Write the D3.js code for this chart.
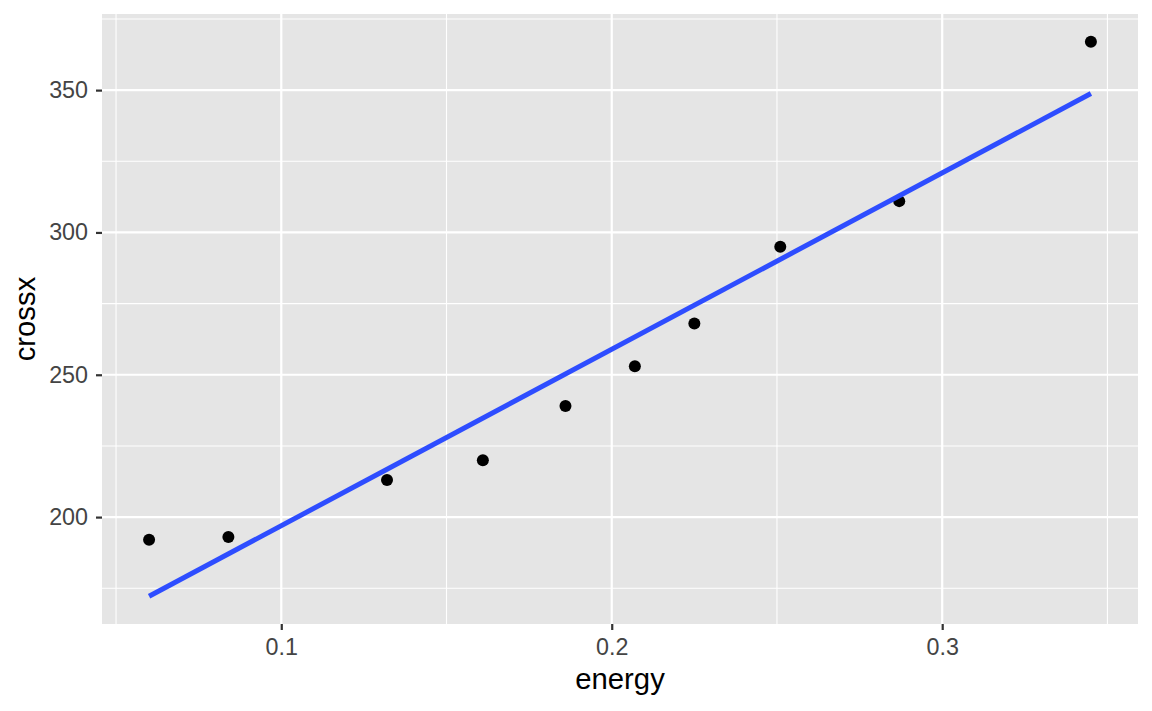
<!DOCTYPE html>
<html><head><meta charset="utf-8">
<script src="https://cdn.jsdelivr.net/npm/d3@7"></script>
<style>body{margin:0;background:#fff}svg{display:block}text{font-family:"Liberation Sans",Arial,Helvetica,sans-serif}</style>
</head><body><svg id="c" width="1152" height="711"></svg>
<script>
const energy = [0.345,0.287,0.251,0.225,0.207,0.186,0.161,0.132,0.084,0.060];
const crossx = [367,311,295,268,253,239,220,213,193,192];
const xTicks = [0.1,0.2,0.3];
const yTicks = [200,250,300,350];
const xTickLabels = ["0.1","0.2","0.3"];
const yTickLabels = ["200","250","300","350"];

const W=1152,H=711, m={l:102,r:14,t:14,b:87};
const svg=d3.select("#c");
// linear fit (geom_smooth method = "lm")
const mx=d3.mean(energy), my=d3.mean(crossx);
let sxy=0,sxx=0; energy.forEach((x,i)=>{sxy+=(x-mx)*(crossx[i]-my);sxx+=(x-mx)**2;});
const b=sxy/sxx, a=my-b*mx;
const xmin=d3.min(energy), xmax=d3.max(energy);
const fit=[[xmin,a+b*xmin],[xmax,a+b*xmax]];
const ylo=Math.min(d3.min(crossx),fit[0][1],fit[1][1]), yhi=Math.max(d3.max(crossx),fit[0][1],fit[1][1]);
const xr=xmax-xmin, yr=yhi-ylo;
const x=d3.scaleLinear().domain([xmin-0.05*xr,xmax+0.05*xr]).range([m.l,W-m.r]);
const y=d3.scaleLinear().domain([ylo-0.05*yr,yhi+0.05*yr]).range([H-m.b,m.t]);
const g=svg.append("g");
g.append("rect").attr("x",m.l).attr("y",m.t).attr("width",W-m.r-m.l).attr("height",H-m.b-m.t).attr("fill","#E5E5E5");
const xMinor=[0.05,0.15,0.25,0.35], yMinor=[175,225,275,325,375];
g.selectAll(".xm").data(xMinor.filter(v=>v>=x.domain()[0]&&v<=x.domain()[1])).join("line").attr("x1",d=>x(d)).attr("x2",d=>x(d)).attr("y1",m.t).attr("y2",H-m.b).attr("stroke","#fff").attr("stroke-width",1.1);
g.selectAll(".ym").data(yMinor.filter(v=>v>=y.domain()[0]&&v<=y.domain()[1])).join("line").attr("y1",d=>y(d)).attr("y2",d=>y(d)).attr("x1",m.l).attr("x2",W-m.r).attr("stroke","#fff").attr("stroke-width",1.1);
g.selectAll(".xg").data(xTicks).join("line").attr("x1",d=>x(d)).attr("x2",d=>x(d)).attr("y1",m.t).attr("y2",H-m.b).attr("stroke","#fff").attr("stroke-width",2.2);
g.selectAll(".yg").data(yTicks).join("line").attr("y1",d=>y(d)).attr("y2",d=>y(d)).attr("x1",m.l).attr("x2",W-m.r).attr("stroke","#fff").attr("stroke-width",2.2);
// points
g.selectAll("circle").data(energy.map((e,i)=>[e,crossx[i]])).join("circle").attr("cx",d=>x(d[0])).attr("cy",d=>y(d[1])).attr("r",6).attr("fill","#000");
// fit line
g.append("line").attr("x1",x(fit[0][0])).attr("y1",y(fit[0][1])).attr("x2",x(fit[1][0])).attr("y2",y(fit[1][1])).attr("stroke","#2E4DFF").attr("stroke-width",5);
// axes
const xa=svg.append("g").attr("transform",`translate(0,${H-m.b})`).call(d3.axisBottom(x).tickValues(xTicks).tickFormat((d,i)=>xTickLabels[i]).tickSize(6).tickPadding(8));
const ya=svg.append("g").attr("transform",`translate(${m.l},0)`).call(d3.axisLeft(y).tickValues(yTicks).tickFormat((d,i)=>yTickLabels[i]).tickSize(6).tickPadding(8));
[xa,ya].forEach(a=>{a.select(".domain").remove();a.attr("font-size",null);a.selectAll(".tick line").attr("stroke","#333").attr("stroke-width",2.2);a.selectAll(".tick text").attr("fill","#444").style("font-size","23.3px").style("font-family","'Liberation Sans',Arial,sans-serif");});
svg.append("text").attr("x",(m.l+W-m.r)/2).attr("y",689).attr("text-anchor","middle").style("font-size","29.3px").attr("fill","#000").text("energy");
svg.append("text").attr("transform",`translate(35,${(m.t+H-m.b)/2}) rotate(-90)`).attr("text-anchor","middle").style("font-size","29.3px").attr("fill","#000").text("crossx");
</script></body></html>
